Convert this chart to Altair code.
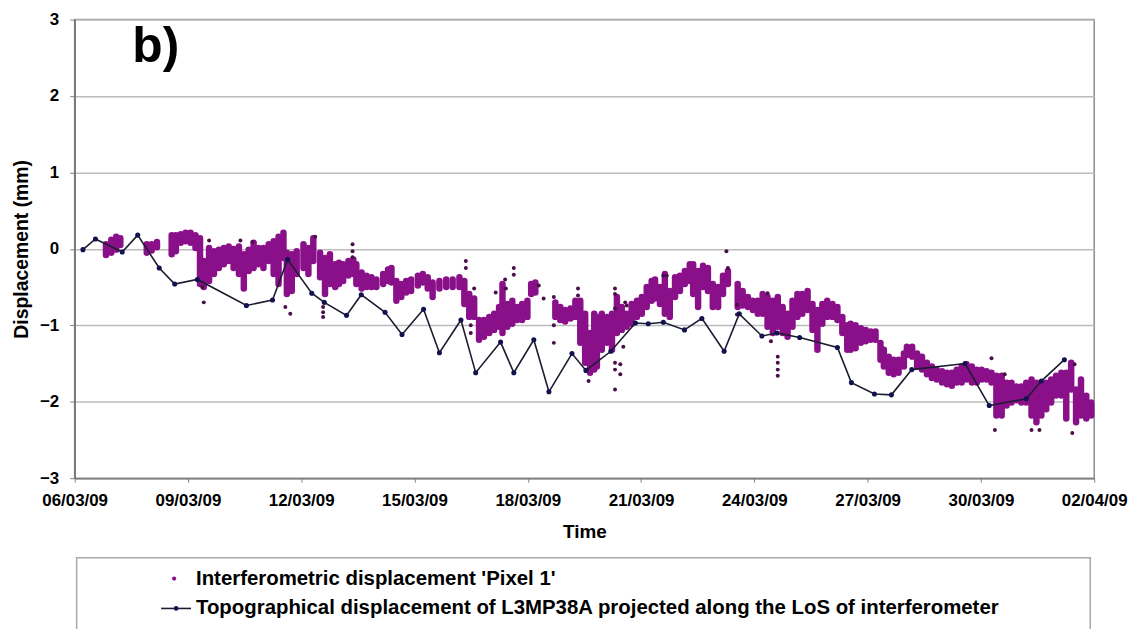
import altair as alt
import pandas as pd

# ---------------- data ----------------
start_date = "2009-03-06"
tick_labels = ["06/03/09", "09/03/09", "12/03/09", "15/03/09", "18/03/09",
               "21/03/09", "24/03/09", "27/03/09", "30/03/09", "02/04/09"]
y_ticks = [-3, -2, -1, 0, 1, 2, 3]

# Interferometric displacement 'Pixel 1' : day offset, lower and upper edge of the dot cloud (mm)
pix_day = [0.83, 0.97, 1.10, 1.21, 1.91, 2.04, 2.18, 2.57, 2.68, 2.81, 2.94, 3.07, 3.20, 3.32, 3.42,
           3.56, 3.69, 3.82, 3.95, 4.08, 4.21, 4.35, 4.48, 4.61, 4.74, 4.87, 5.00, 5.14, 5.27, 5.40,
           5.53, 5.62, 5.75, 5.88, 6.06, 6.19, 6.32, 6.50, 6.63, 6.76,
           6.90, 7.00, 7.11, 7.25, 7.38, 7.46, 7.60, 7.73, 7.86, 7.99, 8.17, 8.30, 8.39, 8.52, 8.65,
           8.78, 8.91, 9.09, 9.22, 9.35, 9.48, 9.66, 9.84, 10.01, 10.19, 10.32, 10.45, 10.58, 10.71,
           10.84, 10.98, 11.11, 11.24, 11.33, 11.46, 11.59, 11.72, 11.85, 11.99, 12.09, 12.20, 12.73,
           12.86, 12.99, 13.13, 13.26, 13.39, 13.52, 13.65,
           13.76, 13.83, 13.96, 14.10, 14.23, 14.36, 14.49, 14.62, 14.75, 14.89, 15.02, 15.15, 15.28,
           15.37, 15.50, 15.63, 15.76, 15.90, 16.03, 16.16, 16.29, 16.38, 16.51, 16.64, 16.77, 16.90,
           17.04, 17.17, 17.30, 17.56, 17.69, 17.83, 17.96, 18.09, 18.22, 18.35, 18.49, 18.62, 18.75,
           18.88, 19.01, 19.14, 19.27, 19.41, 19.54, 19.67, 19.80, 19.93, 20.07, 20.20, 20.33,
           20.46, 20.55, 20.68, 20.82, 20.95, 21.08, 21.21, 21.34, 21.43, 21.56, 21.69, 21.82, 21.96,
           22.04, 22.18, 22.31, 22.44, 22.57, 22.70, 22.83, 22.97, 23.10, 23.23, 23.36, 23.49, 23.62,
           23.76, 23.89, 24.02, 24.15, 24.28, 24.41, 24.55, 24.68, 24.81, 24.94, 25.07, 25.20, 25.34,
           25.47, 25.60, 25.73, 25.86, 25.99, 26.13, 26.26, 26.39, 26.52, 26.65, 26.79, 26.92]
pix_lo = [-0.08, -0.05, -0.01, 0.05, -0.05, -0.02, 0.02, -0.07, -0.03, 0.08, 0.10, 0.08, 0.01, -0.46, -0.50,
          -0.42, -0.33, -0.25, -0.20, -0.16, -0.25, -0.33, -0.52, -0.29, -0.25, -0.20, -0.25, -0.16, -0.33, -0.46,
          -0.12, -0.59, -0.55, -0.33, -0.25, -0.33, -0.16, -0.37, -0.59, -0.46,
          -0.50, -0.46, -0.42, -0.35, -0.33, -0.46, -0.52, -0.50, -0.50, -0.50, -0.46, -0.42, -0.44, -0.68, -0.63,
          -0.57, -0.55, -0.48, -0.44, -0.52, -0.63, -0.52, -0.50, -0.50, -0.50, -0.72, -0.89, -0.89, -1.19,
          -1.15, -1.10, -1.06, -1.02, -1.10, -1.02, -0.98, -0.93, -0.93, -0.89, -0.59, -0.57, -0.89,
          -0.93, -0.95, -0.91, -0.89, -1.23, -1.49, -1.62,
          -1.58, -1.54, -1.32, -1.23, -1.32, -1.10, -1.06, -1.02, -0.98, -0.89, -0.85, -0.76, -0.68,
          -0.65, -0.72, -0.85, -0.89, -0.63, -0.55, -0.46, -0.42, -0.59, -0.76, -0.50, -0.55, -0.76,
          -0.76, -0.59, -0.46, -0.76, -0.74, -0.76, -0.80, -0.85, -0.85, -1.02, -1.10, -1.02, -1.10,
          -1.15, -1.02, -0.89, -0.85, -0.80, -1.06, -1.32, -0.98, -0.89, -0.89, -0.93, -1.10,
          -1.32, -1.32, -1.30, -1.23, -1.21, -1.19, -1.19, -1.45, -1.54, -1.62, -1.64, -1.62, -1.54,
          -1.39, -1.41, -1.54, -1.58, -1.64, -1.69, -1.71, -1.75, -1.77, -1.79, -1.75, -1.75, -1.71,
          -1.75, -1.75, -1.71, -1.71, -1.75, -2.18, -2.18, -2.05, -2.01, -1.98, -2.01, -2.01, -2.18,
          -2.27, -2.18, -2.10, -2.01, -1.92, -1.92, -2.22, -1.84, -2.27, -2.18, -2.22, -2.18]
pix_hi = [0.06, 0.12, 0.16, 0.14, 0.06, 0.06, 0.09, 0.18, 0.18, 0.19, 0.21, 0.21, 0.18, 0.14, -0.16,
          0.01, -0.03, -0.01, 0.01, 0.03, 0.00, 0.03, -0.07, -0.01, 0.08, 0.01, 0.01, 0.06, 0.10, 0.16,
          0.21, -0.05, -0.07, -0.03, 0.06, 0.01, 0.14, -0.05, -0.12, -0.07,
          -0.20, -0.18, -0.20, -0.16, -0.14, -0.20, -0.31, -0.35, -0.37, -0.40, -0.33, -0.27, -0.25, -0.42, -0.46,
          -0.42, -0.40, -0.35, -0.33, -0.37, -0.44, -0.42, -0.40, -0.40, -0.37, -0.42, -0.59, -0.65, -0.93,
          -0.93, -0.89, -0.85, -0.76, -0.46, -0.72, -0.68, -0.76, -0.72, -0.68, -0.46, -0.44, -0.70,
          -0.76, -0.80, -0.78, -0.68, -0.68, -0.85, -1.10,
          -0.85, -0.89, -0.85, -0.89, -0.85, -0.63, -0.76, -0.85, -0.72, -0.68, -0.63, -0.50, -0.42,
          -0.40, -0.50, -0.33, -0.55, -0.37, -0.35, -0.29, -0.20, -0.20, -0.29, -0.22, -0.25, -0.46,
          -0.50, -0.35, -0.29, -0.46, -0.55, -0.63, -0.68, -0.68, -0.59, -0.63, -0.68, -0.63, -0.76,
          -0.85, -0.68, -0.59, -0.59, -0.55, -0.72, -0.80, -0.72, -0.68, -0.72, -0.76, -0.89,
          -1.00, -0.98, -1.00, -1.04, -1.06, -1.08, -1.08, -1.23, -1.32, -1.41, -1.45, -1.45, -1.37,
          -1.28, -1.28, -1.37, -1.41, -1.49, -1.54, -1.58, -1.60, -1.62, -1.62, -1.58, -1.54, -1.51,
          -1.54, -1.58, -1.58, -1.60, -1.62, -1.66, -1.66, -1.75, -1.75, -1.80, -1.80, -1.75, -1.71,
          -1.75, -1.79, -1.75, -1.71, -1.66, -1.62, -1.62, -1.49, -1.84, -1.71, -1.92, -2.01]

# isolated 'Pixel 1' dots away from the main cloud
out_day = [3.42, 3.38, 3.56, 4.39, 4.71, 5.58, 5.71, 6.37, 6.58, 6.58, 6.58,
           7.36, 7.36, 7.36, 10.36, 10.36, 10.58, 10.49, 10.49, 11.15, 11.40, 11.42, 11.63, 11.63,
           12.29, 12.42, 12.69, 12.69, 12.69, 13.33, 13.33, 13.61,
           14.31, 14.31, 14.31, 14.31, 14.31, 14.31, 14.45, 14.45, 14.53, 14.58, 14.62, 15.59, 15.68,
           17.26, 17.30, 17.54, 17.54, 18.35, 18.44, 18.62, 18.62, 18.62, 18.62,
           24.28, 24.37, 24.63, 25.34, 25.55, 26.42, 26.48]
out_val = [-0.70, -0.50, 0.11, 0.11, 0.09, -0.76, -0.85, 0.16, -0.76, -0.83, -0.89,
           0.06, -0.03, -0.11, -0.16, -0.25, -0.52, -1.00, -1.10, -0.57, -0.40, -0.52, -0.25, -0.34,
           -0.48, -0.65, -0.63, -1.00, -1.23, -0.52, -0.61, -1.73,
           -0.52, -0.59, -0.78, -1.49, -1.58, -1.84, -1.51, -1.64, -1.28, -0.70, -0.74, -0.35, -0.35,
           -0.03, -0.25, -0.73, -0.86, -0.58, -1.21, -1.41, -1.49, -1.58, -1.66,
           -1.43, -2.37, -1.64, -2.37, -2.37, -2.41, -1.51]

# Topographical displacement of L3MP38A
topo_day = [0.22, 0.55, 1.26, 1.67, 2.24, 2.65, 3.25, 4.55, 5.24, 5.64, 6.28, 6.61, 7.20, 7.59,
            8.22, 8.67, 9.24, 9.66, 10.23, 10.62, 11.28, 11.63, 12.16, 12.56, 13.17, 13.54, 14.20,
            14.85, 15.19, 15.59, 16.15, 16.61, 17.20, 17.60, 18.20, 18.60, 19.20, 20.20, 20.57,
            21.18, 21.63, 22.17, 23.58, 24.22, 25.20, 25.60, 26.21]
topo_val = [-0.01, 0.13, -0.04, 0.18, -0.25, -0.46, -0.40, -0.74, -0.67, -0.14, -0.58, -0.70, -0.87, -0.60,
            -0.83, -1.12, -0.79, -1.36, -0.93, -1.62, -1.22, -1.62, -1.19, -1.87, -1.37, -1.59, -1.34,
            -0.97, -0.98, -0.96, -1.06, -0.91, -1.34, -0.85, -1.14, -1.10, -1.16, -1.29, -1.75,
            -1.90, -1.91, -1.58, -1.50, -2.05, -1.96, -1.73, -1.45]

panel_label = "b)"
series_names = ["Interferometric displacement 'Pixel 1'",
                "Topographical displacement of L3MP38A projected along the LoS of interferometer"]
x_title = "Time"
y_title = "Displacement (mm)"

# ---------------- tables ----------------
t0 = pd.Timestamp(start_date)


def stamp(days):
    return [(t0 + pd.Timedelta(days=float(d))).strftime("%Y-%m-%dT%H:%M:%S") for d in days]


pix_df = pd.DataFrame({"t": stamp(pix_day), "lo": pix_lo, "hi": pix_hi})
out_df = pd.DataFrame({"t": stamp(out_day), "v": out_val})
topo_df = pd.DataFrame({"t": stamp(topo_day), "v": topo_val})


def to_dt(lbl):
    d, m, y = lbl.split("/")
    return alt.DateTime(year=2000 + int(y), month=int(m), date=int(d))


tick_vals = [to_dt(s) for s in tick_labels]

FONT = "Liberation Sans"
PURPLE = "#8a108a"

x_axis = alt.Axis(values=tick_vals, format="%d/%m/%y", title=x_title, grid=False,
                  labelFont=FONT, labelFontSize=17, labelFontWeight="bold", labelColor="black",
                  labelPadding=11, tickSize=4, tickColor="#808080",
                  titleFont=FONT, titleFontSize=19, titleFontWeight="bold", titleColor="black",
                  titlePadding=14, domainColor="#808080", domainWidth=1.5, labelFlush=False,
                  labelOverlap=False)
y_axis = alt.Axis(values=y_ticks, title=y_title, grid=True, gridColor="#bcbcbc", gridWidth=1.5,
                  labelFont=FONT, labelFontSize=17, labelFontWeight="bold", labelColor="black",
                  labelPadding=11, tickSize=5, tickColor="#808080",
                  titleFont=FONT, titleFontSize=19.5, titleFontWeight="bold", titleColor="black",
                  titlePadding=8, domainColor="#707070", domainWidth=1.5)
x_scale = alt.Scale(domain=[tick_vals[0], tick_vals[-1]])
y_scale = alt.Scale(domain=[y_ticks[0], y_ticks[-1]], nice=False)

cloud = alt.Chart(pix_df).mark_rule(color=PURPLE, strokeWidth=6.5, strokeCap="round").encode(
    x=alt.X("t:T", scale=x_scale, axis=x_axis),
    y=alt.Y("lo:Q", scale=y_scale, axis=y_axis),
    y2="hi:Q",
)
stray = alt.Chart(out_df).mark_circle(color="#4a0f4a", size=16, opacity=1).encode(
    x=alt.X("t:T", scale=x_scale, axis=x_axis),
    y=alt.Y("v:Q", scale=y_scale, axis=y_axis),
)
topo = alt.Chart(topo_df).mark_line(
    color="#1c1c30", strokeWidth=1.6,
    point=alt.OverlayMarkDef(filled=True, color="#121250", size=26),
).encode(
    x=alt.X("t:T", scale=x_scale, axis=x_axis),
    y=alt.Y("v:Q", scale=y_scale, axis=y_axis),
)

lab_df = pd.DataFrame({"txt": [panel_label]})
panel = alt.Chart(lab_df).mark_text(font=FONT, fontSize=50, fontWeight="bold", align="left",
                                    baseline="alphabetic", color="black").encode(
    x=alt.value(58), y=alt.value(43), text="txt:N")

# legend (box, glyphs and labels) below the plot
leg_df = pd.DataFrame({"name1": [series_names[0]], "name2": [series_names[1]]})
box = alt.Chart(leg_df).mark_rect(fill="white", stroke="#a8a8a8", strokeWidth=1.5).encode(
    x=alt.value(2), x2=alt.value(1021), y=alt.value(541), y2=alt.value(616))
leg_dot1 = alt.Chart(leg_df).mark_circle(color=PURPLE, size=18, opacity=1).encode(
    x=alt.value(100), y=alt.value(562))
leg_txt1 = alt.Chart(leg_df).mark_text(font=FONT, fontSize=20.5, fontWeight="bold", align="left",
                                       baseline="middle", color="black").encode(
    x=alt.value(122), y=alt.value(562), text="name1:N")
leg_line2 = alt.Chart(leg_df).mark_rule(color="#1c1c30", strokeWidth=1.6).encode(
    x=alt.value(87), x2=alt.value(117), y=alt.value(592))
leg_dot2 = alt.Chart(leg_df).mark_circle(color="#121250", size=22, opacity=1).encode(
    x=alt.value(102), y=alt.value(592))
leg_txt2 = alt.Chart(leg_df).mark_text(font=FONT, fontSize=20.5, fontWeight="bold", align="left",
                                       baseline="middle", color="black").encode(
    x=alt.value(122), y=alt.value(592), text="name2:N")

chart = alt.layer(cloud, stray, topo, panel, box, leg_dot1, leg_txt1, leg_line2, leg_dot2,
                  leg_txt2).properties(
    width=1025, height=461,
    autosize=alt.AutoSizeParams(type="none"),
    padding={"left": 67, "top": 10, "right": 38, "bottom": 150},
    background="white",
).configure_view(stroke="#8c8c8c", strokeWidth=1.5)

chart.save("out.html", embed_options={"renderer": "svg", "actions": False})
